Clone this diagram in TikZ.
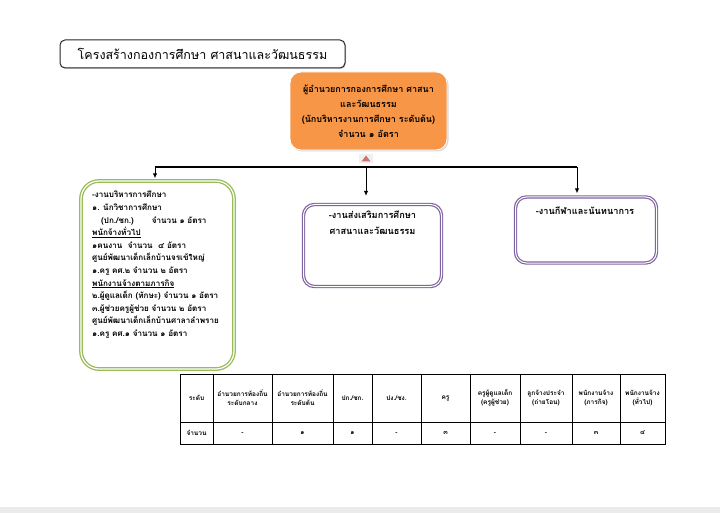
\documentclass[tikz,border=0pt]{standalone}
\usepackage{fontspec}
\setmainfont{Loma}[Script=Thai]
\usetikzlibrary{shadows,arrows.meta}
\definecolor{orangefill}{HTML}{F79646}
\definecolor{greenline}{HTML}{9BBB59}
\definecolor{purpleline}{HTML}{8064A2}
\definecolor{tabred}{HTML}{C0504D}
\begin{document}
\begin{tikzpicture}[x=1pt,y=-1pt,
  titlebox/.style={draw=black!85,line width=1pt,rounded corners=5pt,minimum width=285pt,minimum height=28pt,inner sep=0pt,drop shadow={shadow xshift=1pt,shadow yshift=-1pt,opacity=0.35}},
  headbox/.style={fill=orangefill,draw=white,line width=0.8pt,rounded corners=11pt,minimum width=157pt,minimum height=78pt,inner sep=0pt,drop shadow={shadow xshift=1.5pt,shadow yshift=-1.5pt,opacity=0.3}},
  greenbox/.style={draw=greenline,double=white,double distance=1.2pt,line width=1.3pt,rounded corners=18pt,minimum width=153pt,minimum height=188pt,inner sep=0pt},
  purplebox/.style={draw=purpleline,double=white,double distance=1pt,line width=1.2pt,rounded corners=11pt,inner sep=0pt},
  bodytext/.style={font=\bfseries\fontsize{8.1}{12.6}\selectfont,align=left,inner sep=0pt,anchor=north west},
  cell/.style={font=\bfseries\fontsize{6.5}{9}\selectfont,align=center,inner sep=0pt},
  conn/.style={line width=1pt,-{Latex[length=5pt,width=4.5pt]}}
]
\useasboundingbox (0,0) rectangle (720,513);
\fill[white] (0,0) rectangle (720,513);
\fill[black!8] (0,507) rectangle (720,513);

% title
\node[titlebox,fill=white] (title) at (202.5,54) {\fontsize{12.5}{14}\selectfont โครงสร้างกองการศึกษา ศาสนาและวัฒนธรรม};

% head box
\node[headbox] (head) at (368.5,111) {};
\node[font=\bfseries\fontsize{9}{15}\selectfont,align=center,inner sep=0pt] (headtext) at (head.center)
 {ผู้อำนวยการกองการศึกษา ศาสนา\\และวัฒนธรรม\\(นักบริหารงานการศึกษา ระดับต้น)\\จำนวน ๑ อัตรา};

% small tab under head box
\fill[black!6] (359,154) rectangle (373,163);
\fill[tabred!80] (361.5,161.5) -- (370.5,161.5) -- (366,155.5) -- cycle;

% boxes
\node[greenbox] (left) at (157.5,275) {};
\node[purplebox,minimum width=138pt,minimum height=82pt] (mid) at (372.5,245.5) {};
\node[purplebox,minimum width=141pt,minimum height=66pt] (right) at (586,230) {};

\node[bodytext] (lefttext) at (92,191) {-งานบริหารการศึกษา\\
๑. นักวิชาการศึกษา\\
\hspace*{9pt}(ปก./ชก.)\hspace{18pt}จำนวน ๑ อัตรา\\
\underline{พนักจ้างทั่วไป}\\
๑คนงาน\ \ จำนวน\ \ ๔ อัตรา\\
ศูนย์พัฒนาเด็กเล็กบ้านจรเข้ใหญ่\\
๑.ครู คศ.๒ จำนวน ๒ อัตรา\\
\underline{พนักงานจ้างตามภารกิจ}\\
๒.ผู้ดูแลเด็ก (ทักษะ) จำนวน ๑ อัตรา\\
๓.ผู้ช่วยครูผู้ช่วย จำนวน ๒ อัตรา\\
ศูนย์พัฒนาเด็กเล็กบ้านศาลาลำพราย\\
๑.ครู คศ.๑ จำนวน ๑ อัตรา};

\node[bodytext,font=\bfseries\fontsize{9.2}{15.5}\selectfont,align=center,anchor=north] (midtext) at (372.5,211) {-งานส่งเสริมการศึกษา\\ศาสนาและวัฒนธรรม};
\node[bodytext,font=\bfseries\fontsize{9.2}{15.5}\selectfont,anchor=north] (righttext) at (585,207) {-งานกีฬาและนันทนาการ};

% connectors
\coordinate (hl) at (155,167);
\coordinate (hm) at (366,167);
\coordinate (hr) at (577,167);
\draw[line width=2.3pt] (hl) -- (hr);
\draw[conn,shorten >=2pt] (hl) -- (hl |- left.north);
\draw[conn,shorten >=8pt] (hm) -- (hm |- mid.north);
\draw[conn,shorten >=3pt] (hr) -- (hr |- right.north);

% table
\draw[line width=0.7pt] (180,374) rectangle (665,444);
\draw[line width=0.7pt] (180,422) -- (665,422);
\foreach \xx in {213,272,333,372,421,470,520,572,620}
  \draw[line width=0.7pt] (\xx,374) -- (\xx,444);
\foreach \xa/\xb/\hd/\vl [count=\i] in {
  180/213/{ระดับ}/{จำนวน},
  213/272/{อำนวยการท้องถิ่น\\ระดับกลาง}/{-},
  272/333/{อำนวยการท้องถิ่น\\ระดับต้น}/{๑},
  333/372/{ปก./ชก.}/{๑},
  372/421/{ปง./ชง.}/{-},
  421/470/{ครู}/{๓},
  470/520/{ครูผู้ดูแลเด็ก\\(ครูผู้ช่วย)}/{-},
  520/572/{ลูกจ้างประจำ\\(ถ่ายโอน)}/{-},
  572/620/{พนักงานจ้าง\\(ภารกิจ)}/{๓},
  620/665/{พนักงานจ้าง\\(ทั่วไป)}/{๔}} {
  \node[cell] (th\i) at ({(\xa+\xb)/2},398) {\hd};
  \node[cell] (td\i) at ({(\xa+\xb)/2},433) {\vl};
}
\end{tikzpicture}
\end{document}
